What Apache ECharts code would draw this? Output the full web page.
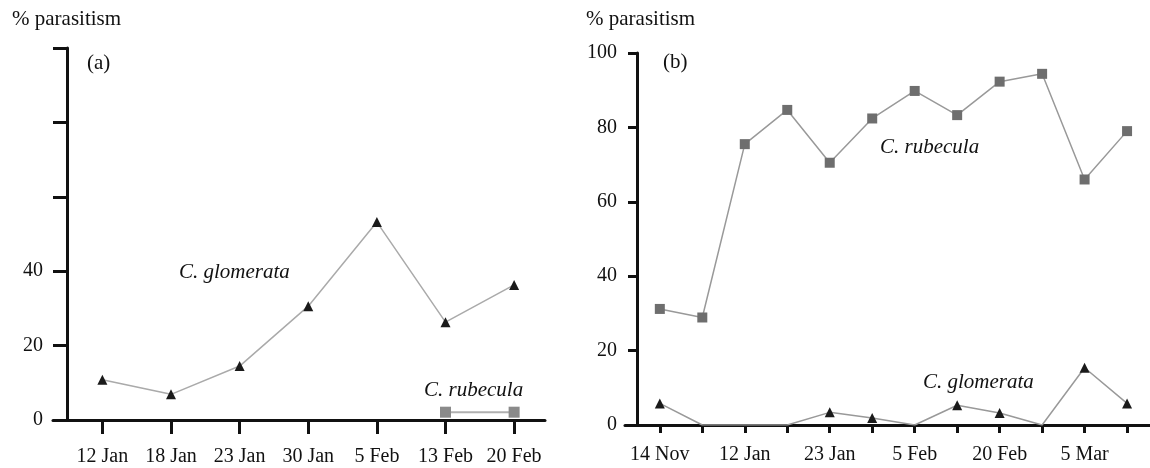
<!DOCTYPE html>
<html>
<head>
<meta charset="utf-8">
<script src="https://cdn.jsdelivr.net/npm/echarts@6/dist/echarts.min.js"></script>
<style>
  html, body { margin: 0; padding: 0; background: #fff; }
  #chart { width: 1150px; height: 468px; }
</style>
</head>
<body>
<div id="chart"></div>
<script>
// panel (a)
const datesA = ['12 Jan', '18 Jan', '23 Jan', '30 Jan', '5 Feb', '13 Feb', '20 Feb']
const glomA = [10.8, 6.9, 14.5, 30.6, 53.2, 26.3, 36.3]
const rubA = [null, null, null, null, null, 2.1, 2.1]
const yLabelsA = [0, 20, 40]

// panel (b) - only every other tick is labelled
const datesB = ['14 Nov', '', '12 Jan', '', '23 Jan', '', '5 Feb', '', '20 Feb', '', '5 Mar', '']
const rubB = [31.2, 28.9, 75.5, 84.7, 70.5, 82.4, 89.8, 83.3, 92.3, 94.4, 66, 79]
const glomB = [5.8, 0, 0, 0, 3.4, 1.9, 0, 5.3, 3.2, 0, 15.4, 5.8]

const FONT = '"Liberation Serif", "Times New Roman", serif'
const INK = '#111'

const toPoints = (arr, symbol) => arr
  .map((v, i) => v == null ? null : { value: [i, v], symbol: v === 0 ? 'none' : symbol })
  .filter(d => d)

const idx = arr => arr.map((_, i) => i)

const yAxisBase = (gridIndex, offset, tickLen, margin, formatter) => ({
  type: 'value',
  gridIndex,
  min: 0,
  max: 100,
  interval: 20,
  offset,
  axisLine: { onZero: false, lineStyle: { color: INK, width: 3 } },
  axisTick: { length: tickLen, lineStyle: { color: INK, width: 3 } },
  axisLabel: { margin, color: INK, fontFamily: FONT, fontSize: 20, formatter },
  splitLine: { show: false }
})

const text = (x, y, str, italic) => ({
  type: 'text',
  x,
  y,
  style: { text: str, font: `${italic ? 'italic ' : ''}21px ${FONT}`, fill: INK, verticalAlign: 'middle' }
})

const chart = echarts.init(document.getElementById('chart'), null, { renderer: 'canvas' })

const options = {
  backgroundColor: '#fff',
  animation: false,
  grid: [
    { left: 53, top: 48, width: 492, height: 372 },
    { left: 625, top: 53, width: 525, height: 372 }
  ],
  xAxis: [
    {
      type: 'value',
      gridIndex: 0,
      min: -0.72,
      max: 6.45,
      axisLine: { onZero: false, lineStyle: { color: INK, width: 3 } },
      axisTick: { customValues: idx(datesA), length: 14, lineStyle: { color: INK, width: 3 } },
      axisLabel: {
        customValues: idx(datesA),
        margin: 27,
        color: INK,
        fontFamily: FONT,
        fontSize: 20,
        formatter: v => datesA[Math.round(v)]
      },
      splitLine: { show: false }
    },
    {
      type: 'value',
      gridIndex: 1,
      min: -0.82,
      max: 11.54,
      axisLine: { onZero: false, lineStyle: { color: INK, width: 3 } },
      axisTick: { customValues: idx(datesB), length: 8, lineStyle: { color: INK, width: 3 } },
      axisLabel: {
        customValues: idx(datesB).filter(i => datesB[i] !== ''),
        margin: 20,
        color: INK,
        fontFamily: FONT,
        fontSize: 20,
        formatter: v => datesB[Math.round(v)]
      },
      splitLine: { show: false }
    }
  ],
  yAxis: [
    yAxisBase(0, -14, 14, 24, v => (yLabelsA.indexOf(v) >= 0 ? String(v) : '')),
    yAxisBase(1, -12, 9, 20, '{value}')
  ],
  series: [
    {
      name: 'C. glomerata (a)',
      type: 'line',
      xAxisIndex: 0,
      yAxisIndex: 0,
      data: toPoints(glomA, 'triangle'),
      symbolSize: 10,
      itemStyle: { color: '#1a1a1a' },
      lineStyle: { color: '#aaa', width: 1.5 }
    },
    {
      name: 'C. rubecula (a)',
      type: 'line',
      xAxisIndex: 0,
      yAxisIndex: 0,
      data: toPoints(rubA, 'rect'),
      symbolSize: 11,
      itemStyle: { color: '#8a8a8a' },
      lineStyle: { color: '#b0b0b0', width: 2 }
    },
    {
      name: 'C. rubecula (b)',
      type: 'line',
      xAxisIndex: 1,
      yAxisIndex: 1,
      data: toPoints(rubB, 'rect'),
      symbolSize: 10,
      itemStyle: { color: '#6e6e6e' },
      lineStyle: { color: '#999', width: 1.5 }
    },
    {
      name: 'C. glomerata (b)',
      type: 'line',
      xAxisIndex: 1,
      yAxisIndex: 1,
      data: toPoints(glomB, 'triangle'),
      symbolSize: 10,
      itemStyle: { color: '#1a1a1a' },
      lineStyle: { color: '#999', width: 1.5 }
    }
  ],
  graphic: [
    text(12, 19, '% parasitism'),
    text(586, 19, '% parasitism'),
    text(87, 63, '(a)'),
    text(663, 62, '(b)'),
    text(179, 272, 'C. glomerata', true),
    text(424, 390, 'C. rubecula', true),
    text(880, 147, 'C. rubecula', true),
    text(923, 382, 'C. glomerata', true)
  ]
}

chart.setOption(options, true)
</script>
</body>
</html>
